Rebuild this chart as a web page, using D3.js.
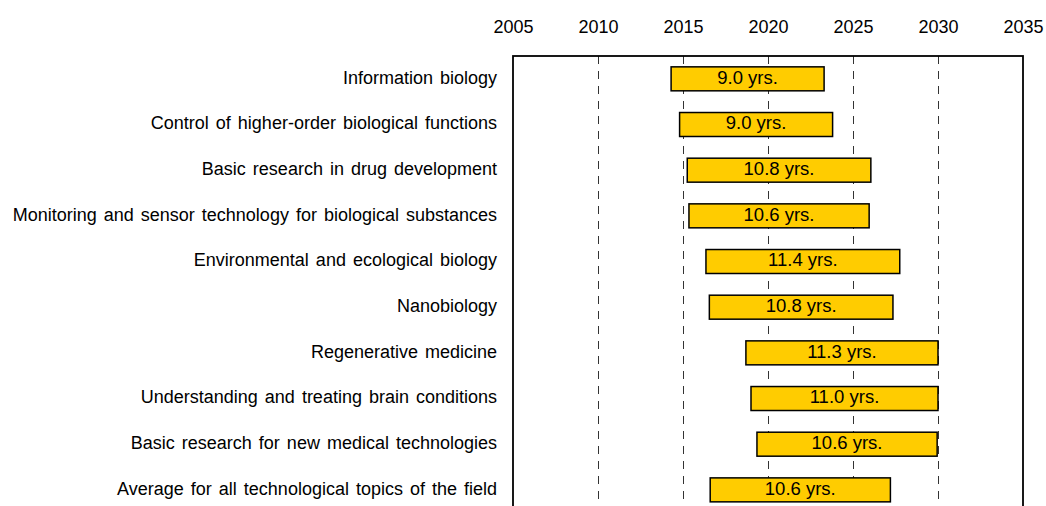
<!DOCTYPE html>
<meta charset="utf-8">
<style>
body { margin: 0; background: #fff; }
text { font-family: Arial, "Liberation Sans", sans-serif; fill: #000; }
.cat { font-size: 18px; word-spacing: 2px; }
.tick text { font-size: 18px; }
.lbl { font-size: 18.5px; }
.grid { stroke: #333; stroke-width: 1px; stroke-dasharray: 8,7; }
</style>
<body>
<svg id="chart"></svg>
<script src="https://d3js.org/d3.v7.min.js"></script>
<script>

var topics = [
  "Information biology",
  "Control of higher-order biological functions",
  "Basic research in drug development",
  "Monitoring and sensor technology for biological substances",
  "Environmental and ecological biology",
  "Nanobiology",
  "Regenerative medicine",
  "Understanding and treating brain conditions",
  "Basic research for new medical technologies",
  "Average for all technological topics of the field"
];
// year where the span starts, and its length in years
var starts = [2014.3, 2014.8, 2015.25, 2015.35, 2016.35, 2016.55, 2018.7, 2019.0, 2019.35, 2016.6];
var spans  = [9.0, 9.0, 10.8, 10.6, 11.4, 10.8, 11.3, 11.0, 10.6, 10.6];
var yearTicks = [2005, 2010, 2015, 2020, 2025, 2030, 2035];

var width = 1046,
    height = 506;

var svg = d3.select("#chart")
    .attr("width", width)
    .attr("height", height);

var x = d3.scaleLinear()
    .domain([2005, 2035])
    .range([513, 1023]);

var y = d3.scaleBand()
    .domain(topics)
    .range([56, 512.7])
    .paddingInner(0.475)
    .paddingOuter(0.2375);

var rows = topics.map(function(t, i) {
  return { name: t, start: starts[i], span: spans[i] };
});

// dashed year lines (half pixel shift keeps them crisp)
svg.append("g")
  .selectAll("line")
  .data(yearTicks.slice(1, -1))
  .enter().append("line")
    .attr("class", "grid")
    .attr("x1", function(d) { return x(d) + 0.5; })
    .attr("x2", function(d) { return x(d) + 0.5; })
    .attr("y1", 56)
    .attr("y2", 513);

// frame
svg.append("rect")
    .attr("x", x(2005))
    .attr("y", 56)
    .attr("width", x(2035) - x(2005))
    .attr("height", 457)
    .attr("fill", "none")
    .attr("stroke", "#000")
    .attr("stroke-width", 1.8);

// year labels on top
svg.append("g")
    .attr("transform", "translate(0,33)")
    .call(d3.axisTop(x).tickValues(yearTicks).tickFormat(d3.format("d")).tickSize(0).tickPadding(0))
    .call(function(g) { g.select(".domain").remove(); })
    .call(function(g) { g.selectAll(".tick text").attr("fill", "#000").attr("font-family", null).attr("font-size", null); });

var bars = svg.append("g")
  .selectAll("g")
  .data(rows)
  .enter().append("g");

bars.append("rect")
    .attr("x", function(d) { return x(d.start); })
    .attr("y", function(d) { return y(d.name); })
    .attr("width", function(d) { return x(d.start + d.span) - x(d.start); })
    .attr("height", y.bandwidth())
    .attr("fill", "#ffcc00")
    .attr("stroke", "#000")
    .attr("stroke-width", 1.5);

bars.append("text")
    .attr("class", "lbl")
    .attr("x", function(d) { return x(d.start + d.span / 2); })
    .attr("y", function(d) { return y(d.name) + y.bandwidth() / 2; })
    .attr("dy", "0.26em")
    .attr("text-anchor", "middle")
    .text(function(d) { return d.span.toFixed(1) + " yrs."; });

bars.append("text")
    .attr("class", "cat")
    .attr("x", 497)
    .attr("y", function(d) { return y(d.name) + y.bandwidth() / 2; })
    .attr("dy", "0.26em")
    .attr("text-anchor", "end")
    .text(function(d) { return d.name; });

</script>
